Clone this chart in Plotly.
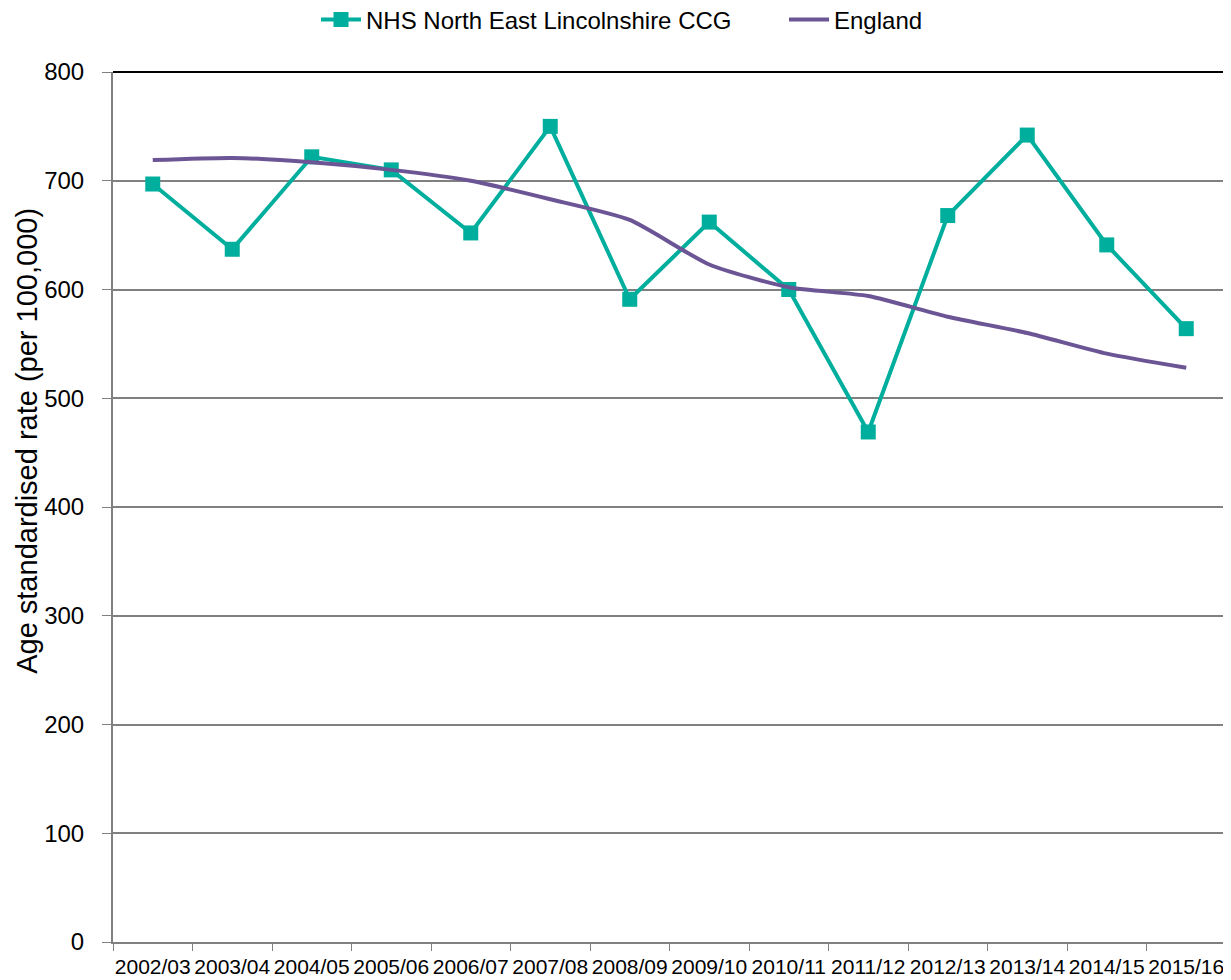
import plotly.graph_objects as go

years = ["2002/03", "2003/04", "2004/05", "2005/06", "2006/07", "2007/08", "2008/09",
         "2009/10", "2010/11", "2011/12", "2012/13", "2013/14", "2014/15", "2015/16"]
nhs_nel = [697, 637, 722, 710, 652, 750, 591, 662, 600, 469, 668, 742, 641, 564]
england = [719, 721, 717, 710, 700, 683, 664, 623, 602, 594, 575, 560, 541, 528]
y_ticks = [0, 100, 200, 300, 400, 500, 600, 700, 800]
y_title = "Age standardised rate (per 100,000)"

FONT = "Liberation Sans, Arial, sans-serif"
TEAL = "#00AE9D"
PURPLE = "#6C5594"

fig = go.Figure()
fig.add_trace(go.Scatter(
    x=years, y=nhs_nel, name="NHS North East Lincolnshire CCG",
    mode="lines+markers",
    line=dict(color=TEAL, width=4),
    marker=dict(symbol="square", size=15, color=TEAL),
))
fig.add_trace(go.Scatter(
    x=years, y=england, name="England",
    mode="lines",
    line=dict(color=PURPLE, width=4, shape="spline", smoothing=0.6),
))

fig.update_layout(
    width=1223, height=972,
    margin=dict(l=105, r=5, t=64, b=38, autoexpand=False),
    paper_bgcolor="white", plot_bgcolor="white",
    font=dict(family=FONT, color="black"),
    showlegend=True,
    legend=dict(orientation="h", x=0.1824, xanchor="left", y=1.06, yanchor="middle",
                font=dict(size=24, family=FONT), itemwidth=40,
                entrywidth=413, entrywidthmode="pixels", tracegroupgap=0),
    xaxis=dict(
        type="category", tickson="boundaries", ticks="outside", ticklen=7,
        tickcolor="#808080", showline=True, linecolor="#808080", linewidth=2,
        showgrid=False, tickfont=dict(size=21, family=FONT), tickangle=0,
        ticklabelstandoff=5, range=[-0.5, 13.5],
    ),
    yaxis=dict(
        range=[0, 800], tickvals=y_ticks, ticks="outside", ticklen=9,
        tickcolor="#808080", showline=True, linecolor="#808080", linewidth=2,
        showgrid=True, gridcolor="#808080", gridwidth=1.5, zeroline=False,
        tickfont=dict(size=24, family=FONT), ticklabelstandoff=13,
    ),
    annotations=[
        dict(text=y_title, textangle=-90, xref="paper", yref="paper",
             x=-0.0773, y=0.576, xanchor="center", yanchor="middle",
             showarrow=False, font=dict(size=29, family=FONT, color="black")),
    ],
    shapes=[
        dict(type="line", xref="paper", yref="paper", x0=0, x1=1, y0=1, y1=1,
             line=dict(color="black", width=2)),
        dict(type="line", xref="paper", yref="paper", x0=1, x1=1, y0=0, y1=1,
             line=dict(color="black", width=2)),
    ],
)

fig.write_html("out.html")
